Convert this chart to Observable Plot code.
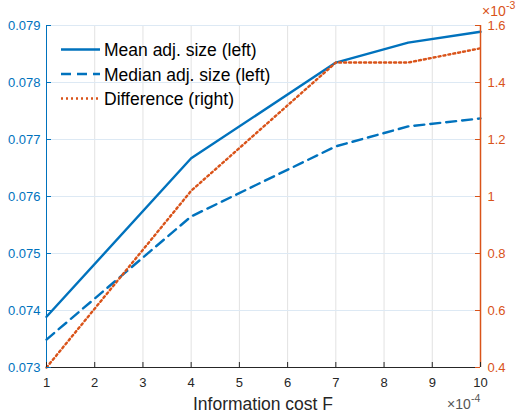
<!DOCTYPE html>
<html><head><meta charset="utf-8">
<script src="https://cdn.jsdelivr.net/npm/d3@7"></script>
<script src="https://cdn.jsdelivr.net/npm/@observablehq/plot@0.6"></script>
<style>body{margin:0;background:#fff} svg{display:block}</style>
</head><body><div id="chart"></div>
<script>
// Data (x in units of 1e-4, difference in units of 1e-3)
const xCost = [1, 4, 7, 8.5, 10];
const meanSize = [0.07389, 0.07667, 0.07835, 0.07870, 0.07889];
const medianSize = [0.07349, 0.07565, 0.07688, 0.07723, 0.07737];
const difference = [0.40, 1.02, 1.47, 1.47, 1.52];
const xTicks = [1, 2, 3, 4, 5, 6, 7, 8, 9, 10];
const leftTicks = [0.073, 0.074, 0.075, 0.076, 0.077, 0.078, 0.079];
const rightTicks = [0.4, 0.6, 0.8, 1.0, 1.2, 1.4, 1.6];
const seriesNames = ["Mean adj. size (left)", "Median adj. size (left)", "Difference (right)"];

const leftDomain = [0.073, 0.079], rightDomain = [0.4, 1.6];
const toLeft = v => leftDomain[0] + (v - rightDomain[0]) / (rightDomain[1] - rightDomain[0]) * (leftDomain[1] - leftDomain[0]);
const fromLeft = v => rightDomain[0] + (v - leftDomain[0]) / (leftDomain[1] - leftDomain[0]) * (rightDomain[1] - rightDomain[0]);

const BLUE = "#0072BD", ORANGE = "#D95319", DARK = "#262626";
const W = 523, H = 415, mL = 46, mR = 43, mT = 25, mB = 48;
const fw = W - mL - mR, fh = H - mT - mB;
const LW = 2.4, DASH = "10,6", DOT = "2,3";

const rows = xCost.map((x, i) => ({x, mean: meanSize[i], median: medianSize[i], diff: toLeft(difference[i])}));

const plot = Plot.plot({
  width: W, height: H,
  marginLeft: mL, marginRight: mR, marginTop: mT, marginBottom: mB,
  style: {fontFamily: "'Liberation Sans', Arial, sans-serif", background: "white"},
  x: {domain: [1, 10]},
  y: {domain: leftDomain},
  marks: [
    Plot.ruleX(xTicks.slice(1, -1), {stroke: "#e2e2e2", strokeWidth: 1}),
    Plot.ruleY(leftTicks.slice(1), {stroke: "#dde9f4", strokeWidth: 1}),
    Plot.line(rows, {x: "x", y: "mean", stroke: BLUE, strokeWidth: LW}),
    Plot.line(rows, {x: "x", y: "median", stroke: BLUE, strokeWidth: LW, strokeDasharray: DASH}),
    Plot.line(rows, {x: "x", y: "diff", stroke: ORANGE, strokeWidth: LW, strokeDasharray: DOT}),
    Plot.ruleY([leftDomain[0]], {stroke: DARK, strokeWidth: 1}),
    Plot.ruleX([1], {stroke: BLUE, strokeWidth: 1}),
    Plot.ruleX([10], {stroke: ORANGE, strokeWidth: 1.5}),
    Plot.tickX(xTicks, {x: d => d, stroke: DARK, insetTop: fh - 5}),
    Plot.tickY(leftTicks, {y: d => d, stroke: BLUE, insetRight: fw - 5}),
    Plot.tickY(rightTicks.map(toLeft), {y: d => d, stroke: ORANGE, insetLeft: fw - 5}),
    Plot.axisY(leftTicks, {anchor: "left", tickSize: 0, tickPadding: 6, fontSize: 13, fill: BLUE, tickFormat: d3.format(".3f"), label: null}),
    Plot.axisY(rightTicks.map(toLeft), {anchor: "right", tickSize: 0, tickPadding: 7, fontSize: 13, fill: ORANGE, tickFormat: d => String(+fromLeft(d).toFixed(2)), label: null}),
    Plot.axisX(xTicks, {anchor: "bottom", tickSize: 0, tickPadding: 10, fontSize: 13, fill: DARK, tickFormat: d => String(d), label: null})
  ]
});

document.getElementById("chart").appendChild(plot);
const svg = d3.select(plot);
const ff = "'Liberation Sans', Arial, sans-serif";

function txt(x, y, size, color, anchor) {
  return svg.append("text").attr("x", x).attr("y", y)
    .style("font-family", ff).style("font-size", size + "px").style("fill", color)
    .style("text-anchor", anchor || "start");
}

// x label
txt(mL + fw / 2, 410, 17.5, DARK, "middle").text("Information cost F");

// exponent labels
function expLabel(x, y, exp, color) {
  txt(x, y, 14, color, "start").text("\u00d710");
  txt(x + 24, y - 7, 10.5, color, "start").text(exp);
}
expLabel(482, 15.5, "-3", ORANGE);
expLabel(447, 409, "-4", "#555");

// legend
const dashes = [null, DASH, DOT];
const colors = [BLUE, BLUE, ORANGE];
seriesNames.forEach((name, i) => {
  const y = 49.5 + i * 24.5;
  const l = svg.append("line").attr("x1", 61).attr("x2", 100).attr("y1", y).attr("y2", y)
    .attr("stroke", colors[i]).attr("stroke-width", LW);
  if (dashes[i]) l.attr("stroke-dasharray", dashes[i]);
  txt(104, y + 6.5, 17.5, "#000", "start").text(name);
});
</script>
</body></html>
